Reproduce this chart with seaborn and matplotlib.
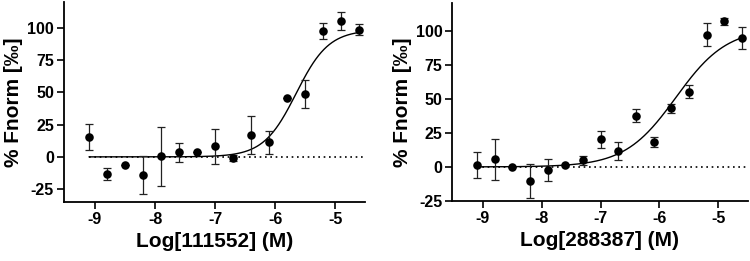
import numpy as np
import pandas as pd
import matplotlib
matplotlib.use("Agg")
import matplotlib.pyplot as plt
import seaborn as sns

# ---- data ----
log_conc = [-9.1, -8.8, -8.5, -8.2, -7.9, -7.6, -7.3, -7.0, -6.7, -6.4, -6.1, -5.8, -5.5, -5.2, -4.9, -4.6]

fnorm_111552 = [15.1, -13.3, -6.0, -14.0, 0.3, 3.6, 3.6, 8.3, -0.8, 17.2, 11.2, 45.3, 48.7, 97.4, 105.2, 98.7]
err_111552 = [10.0, 5.0, 0.0, 15.0, 22.5, 7.3, 0.0, 13.5, 2.6, 14.6, 8.6, 0.0, 11.0, 6.0, 6.8, 4.0]

fnorm_288387 = [1.4, 5.5, -0.1, -10.4, -2.3, 1.1, 4.8, 20.2, 11.9, 37.7, 18.0, 42.9, 55.3, 97.1, 106.8, 94.9]
err_288387 = [9.2, 15.1, 0.0, 12.2, 8.0, 0.0, 3.5, 6.2, 6.6, 4.8, 3.7, 3.3, 4.9, 8.5, 2.4, 8.1]

# fitted dose-response parameters (bottom, top, logEC50, hill)
fit_111552 = (0.0, 98.5, -5.65, 1.6)
fit_288387 = (0.0, 102.0, -5.72, 1.0)

xlabels = ["Log[111552] (M)", "Log[288387] (M)"]
ylabel = "% Fnorm [‰]"
xticks = [-9, -8, -7, -6, -5]
yticks = [-25, 0, 25, 50, 75, 100]

sns.set_style("ticks")
plt.rcParams['font.family'] = ['Liberation Sans', 'DejaVu Sans']
plt.rcParams['font.weight'] = 'bold'
plt.rcParams['text.color'] = 'black'
plt.rcParams['axes.labelcolor'] = 'black'

fig = plt.figure(figsize=(7.5, 2.61), dpi=100)
ax1 = fig.add_axes([0.085, 0.226, 0.402, 0.766])
ax2 = fig.add_axes([0.603, 0.230, 0.394, 0.757])

def four_pl(x, p):
    b, t, ec, h = p
    return b + (t - b) / (1 + 10 ** ((ec - x) * h))

panels = [
    (ax1, fnorm_111552, err_111552, fit_111552, xlabels[0], (-35, 120)),
    (ax2, fnorm_288387, err_288387, fit_288387, xlabels[1], (-25, 120)),
]

for ax, y, e, fit, xl, ylim in panels:
    df = pd.DataFrame({"x": log_conc, "y": y, "e": e})
    xs = np.linspace(log_conc[0], log_conc[-1], 300)
    cdf = pd.DataFrame({"x": xs, "y": four_pl(xs, fit)})
    ax.plot([log_conc[0], -4.5], [0, 0], linestyle=(0, (1, 2.2)), color="black", lw=1.2, zorder=1)
    sns.lineplot(data=cdf, x="x", y="y", ax=ax, color="black", lw=1.0, zorder=2)
    ax.errorbar(df["x"], df["y"], yerr=df["e"], fmt="none", ecolor="#222222",
                elinewidth=0.9, capsize=3, capthick=0.9, zorder=3)
    sns.scatterplot(data=df, x="x", y="y", ax=ax, color="black", s=38, edgecolor="black",
                    linewidth=0, zorder=4)
    ax.set_xlim(-9.52, -4.5)
    ax.set_ylim(*ylim)
    ax.set_xticks(xticks)
    ax.set_yticks(yticks)
    ax.set_xticklabels([str(t) for t in xticks], fontsize=11.5, fontweight="bold", color="black")
    ax.set_yticklabels([str(t) for t in yticks], fontsize=11.5, fontweight="bold", color="black")
    ax.set_xlabel(xl, fontsize=15, fontweight="bold", labelpad=4, color="black")
    ax.set_ylabel(ylabel, fontsize=15, fontweight="bold", labelpad=3, color="black")
    for s in ["top", "right"]:
        ax.spines[s].set_visible(False)
    for s in ["left", "bottom"]:
        ax.spines[s].set_linewidth(1.3)
        ax.spines[s].set_color("black")
    ax.tick_params(axis="both", direction="out", length=5, width=1.2, color="black",
                   labelcolor="black", pad=2)

fig.savefig("out.png", dpi=100)
